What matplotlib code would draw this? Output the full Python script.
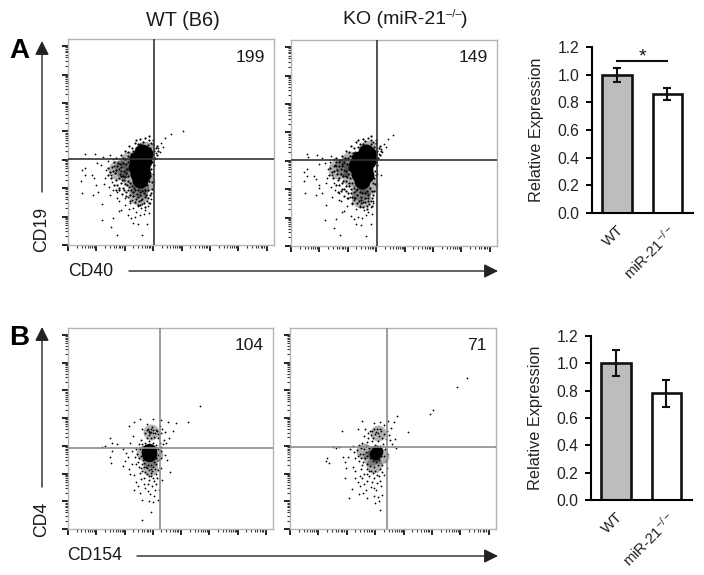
import numpy as np
import matplotlib
matplotlib.use("Agg")
import matplotlib.pyplot as plt

plt.rcParams['font.family'] = ['Liberation Sans', 'DejaVu Sans']
plt.rcParams['mathtext.fontset'] = 'custom'
plt.rcParams['mathtext.rm'] = 'Liberation Sans'
plt.rcParams['mathtext.default'] = 'regular'

W, H = 704, 575

# flow plots, values in log decades
a_wt_core = [(2.62, 3.28), (2.72, 3.2), (2.42, 3.02), (2.68, 2.95), (2.38, 2.75), (2.62, 2.7),
             (2.45, 2.5), (2.65, 2.5), (2.55, 2.3)]
a_wt_haze = [(1.98, 2.72), (2.18, 2.95), (2.2, 2.4), (2.5, 2.0), (2.7, 2.2), (2.72, 3.3), (2.45, 1.75), (1.75, 2.65)]
a_wt_halo = [(1.95, 3.05), (2.05, 2.85), (1.98, 2.6), (2.02, 2.4), (2.1, 2.25), (2.15, 2.05), (2.22, 1.95),
             (2.3, 1.85), (2.42, 1.8), (2.55, 1.75), (2.68, 1.82), (2.8, 1.95), (2.95, 2.2), (2.98, 2.5),
             (3.02, 2.8), (3.05, 3.05), (3.02, 3.3), (2.98, 3.55), (2.85, 3.68), (2.65, 3.62), (2.45, 3.55),
             (2.25, 3.42), (2.1, 3.28), (1.88, 2.75), (1.82, 2.5), (1.9, 2.3), (2.0, 2.15), (2.12, 3.12),
             (2.2, 3.22), (2.92, 3.6), (2.35, 1.95), (2.62, 1.62), (2.72, 1.68), (2.5, 1.55), (2.4, 1.62),
             (1.75, 2.9), (1.7, 2.65), (1.78, 2.35), (1.85, 2.18), (1.92, 2.0), (2.05, 1.88), (2.6, 1.9),
             (3.08, 3.4), (3.12, 3.18), (3.15, 3.3), (2.95, 1.98), (2.88, 1.75), (2.78, 1.55), (1.68, 3.05),
             (1.85, 3.15), (2.0, 3.32), (2.15, 3.48), (2.35, 3.6), (2.55, 3.72)]
a_wt_dense = [(1.92, 2.88), (1.88, 2.62), (1.95, 2.42), (2.02, 3.02), (2.08, 2.68), (2.12, 2.92), (2.05, 2.52),
              (2.12, 2.42), (2.18, 2.18), (2.08, 2.12), (1.98, 2.3), (2.25, 2.08), (2.32, 2.02), (2.45, 1.92),
              (2.52, 1.88), (2.7, 1.95), (2.78, 2.1), (2.86, 2.25), (2.88, 2.42), (2.92, 2.68), (2.95, 2.92),
              (2.92, 3.12), (2.9, 3.42), (2.82, 3.52), (2.55, 3.55), (2.38, 3.42), (2.28, 3.3), (2.18, 3.1),
              (2.22, 2.95), (1.72, 2.78), (1.65, 2.52), (1.62, 2.92), (1.58, 2.62), (1.68, 2.28), (1.72, 2.12),
              (1.8, 2.02), (1.78, 2.68), (1.82, 2.85), (1.85, 2.42), (1.55, 2.75), (1.52, 2.35), (1.48, 2.58),
              (1.62, 2.12), (1.42, 2.72), (1.4, 2.48), (1.98, 1.92), (2.12, 1.92), (2.18, 1.75), (2.28, 1.72),
              (2.35, 1.52), (2.48, 1.68), (2.58, 1.58), (2.68, 1.48), (2.82, 1.65), (2.92, 1.82), (2.75, 1.75),
              (2.45, 1.42), (2.55, 1.42), (2.7, 1.35), (2.85, 1.48), (2.18, 1.55), (2.05, 1.72), (1.9, 1.78),
              (1.78, 1.95), (1.68, 1.92), (2.38, 3.68), (2.72, 3.75), (2.85, 3.82), (3.0, 3.68), (3.12, 3.48)]
a_wt_sparse = [(0.6, 3.19), (0.95, 3.19), (1.24, 3.11), (1.01, 2.87), (1.15, 2.82), (0.6, 2.7), (0.48, 2.64),
               (0.6, 2.46), (0.44, 2.25), (0.83, 2.46), (0.91, 2.35), (0.98, 2.11), (0.48, 1.84), (0.87, 1.76),
               (1.06, 1.88), (1.2, 1.45), (1.18, 0.89), (1.57, 0.94), (1.5, 0.62), (1.71, 0.36), (2.62, 0.34),
               (2.29, 0.77), (2.47, 0.75), (2.78, 0.75), (2.23, 0.94), (1.88, 1.24), (1.8, 1.2), (2.12, 1.06),
               (2.35, 1.0), (2.67, 1.08), (2.85, 1.12), (2.53, 1.04), (1.47, 1.76), (1.71, 1.65), (2.0, 1.41),
               (2.18, 1.47), (2.88, 1.47), (4.05, 4.01), (3.62, 3.9), (3.4, 3.75), (3.29, 3.58), (3.17, 3.4),
               (3.35, 3.46), (3.09, 3.23), (3.23, 3.28), (1.35, 2.65), (1.42, 2.95), (1.5, 2.45), (1.55, 2.2),
               (1.62, 2.78), (1.3, 2.35), (1.25, 2.15), (1.45, 2.05), (1.6, 1.95), (1.72, 1.85), (1.58, 3.02),
               (1.48, 3.15), (1.78, 1.55), (2.0, 1.65), (2.1, 1.7), (2.25, 1.6), (2.3, 1.3), (2.45, 1.38),
               (2.58, 1.3), (2.72, 1.22), (2.8, 1.38), (2.92, 1.62), (2.15, 1.25), (2.4, 1.15), (2.62, 1.45)]

a_ko_core = [(2.65, 3.3), (2.75, 3.22), (2.4, 3.05), (2.72, 2.98), (2.3, 2.82), (2.6, 2.72),
             (2.38, 2.55), (2.65, 2.5), (2.5, 2.28)]
a_ko_haze = [(1.9, 2.78), (2.12, 3.0), (2.15, 2.42), (2.48, 1.95), (2.7, 2.15), (2.72, 3.38), (2.45, 1.68), (1.65, 2.7)]
a_ko_halo = [(1.9, 3.1), (1.98, 2.9), (1.92, 2.65), (1.98, 2.42), (2.05, 2.22), (2.12, 2.02), (2.2, 1.9),
             (2.32, 1.78), (2.45, 1.72), (2.6, 1.7), (2.72, 1.78), (2.85, 1.92), (2.95, 2.18), (3.0, 2.5),
             (3.02, 2.85), (3.05, 3.08), (3.03, 3.35), (2.98, 3.62), (2.82, 3.72), (2.62, 3.68), (2.42, 3.6),
             (2.2, 3.45), (2.05, 3.3), (1.8, 2.8), (1.75, 2.52), (1.82, 2.3), (1.92, 2.12), (2.08, 3.18),
             (2.18, 3.28), (2.9, 3.66), (2.32, 2.0), (2.6, 1.55), (2.72, 1.6), (2.48, 1.5), (2.38, 1.58),
             (1.68, 2.95), (1.62, 2.68), (1.7, 2.4), (1.78, 2.2), (1.85, 2.02), (2.0, 1.85), (2.62, 1.85),
             (3.1, 3.45), (3.14, 3.2), (3.18, 3.34), (2.92, 1.95), (2.85, 1.7), (2.75, 1.48), (1.6, 3.08),
             (1.78, 3.18), (1.95, 3.36), (2.1, 3.52), (2.3, 3.65), (2.52, 3.78), (1.55, 2.85), (2.22, 1.68)]
a_ko_dense = [(1.88, 2.95), (1.85, 2.68), (1.92, 2.48), (2.0, 3.08), (2.05, 2.72), (2.1, 2.98), (2.02, 2.55),
              (2.08, 2.38), (2.15, 2.2), (2.05, 2.1), (1.95, 2.28), (2.22, 2.05), (2.3, 1.98), (2.42, 1.9),
              (2.5, 1.85), (2.68, 1.92), (2.78, 2.05), (2.88, 2.22), (2.92, 2.38), (2.95, 2.65), (2.98, 2.95),
              (2.94, 3.15), (2.92, 3.48), (2.8, 3.58), (2.55, 3.6), (2.36, 3.48), (2.25, 3.32), (2.15, 3.15),
              (1.7, 2.82), (1.62, 2.55), (1.58, 2.95), (1.52, 2.65), (1.65, 2.32), (1.7, 2.15), (1.78, 2.0),
              (1.75, 2.72), (1.8, 2.9), (1.82, 2.45), (1.5, 2.8), (1.48, 2.38), (1.45, 2.6), (1.6, 2.15),
              (1.38, 2.75), (1.35, 2.5), (1.95, 1.92), (2.1, 1.88), (2.16, 1.72), (2.25, 1.7), (2.32, 1.5),
              (2.45, 1.62), (2.55, 1.55), (2.66, 1.42), (2.82, 1.58), (2.9, 1.8), (2.72, 1.7), (2.42, 1.4),
              (2.52, 1.38), (2.68, 1.3), (2.86, 1.42), (2.15, 1.52), (2.02, 1.7), (1.88, 1.75), (1.75, 1.92),
              (1.65, 1.9), (2.35, 3.72), (2.7, 3.8), (2.82, 3.88), (3.0, 3.72), (3.12, 3.52), (1.72, 3.02)]
a_ko_sparse = [(0.58, 3.24), (0.6, 3.12), (0.93, 3.2), (1.1, 3.08), (0.98, 2.9), (1.2, 2.92), (0.55, 2.7),
               (0.47, 2.62), (0.58, 2.45), (0.45, 2.3), (0.82, 2.48), (0.88, 2.36), (0.97, 2.15), (0.98, 2.05),
               (0.5, 1.86), (0.88, 1.78), (1.08, 1.86), (1.22, 1.46), (1.2, 0.9), (1.6, 0.96), (1.5, 0.62),
               (1.74, 0.38), (2.65, 0.36), (2.3, 0.76), (2.48, 0.74), (2.8, 0.78), (2.2, 0.94), (1.85, 1.22),
               (1.78, 1.18), (2.1, 1.06), (2.35, 1.02), (2.65, 1.1), (2.85, 1.14), (2.5, 1.0), (1.45, 1.74),
               (1.68, 1.62), (1.98, 1.42), (2.15, 1.48), (2.88, 1.5), (3.6, 3.92), (3.42, 3.78), (3.28, 3.6),
               (3.16, 3.42), (3.34, 3.48), (3.09, 3.25), (3.22, 3.3), (3.15, 2.5), (3.02, 2.55), (1.3, 2.72),
               (1.38, 2.95), (1.46, 2.5), (1.52, 2.22), (1.58, 2.82), (1.28, 2.4), (1.24, 2.2), (1.42, 2.08),
               (1.56, 1.98), (1.68, 1.86), (1.52, 3.06), (1.42, 3.18), (1.75, 1.58), (1.98, 1.68), (2.08, 1.72),
               (2.22, 1.62), (2.28, 1.3), (2.42, 1.36), (2.56, 1.28), (2.7, 1.2), (2.8, 1.36), (2.9, 1.6)]

b_wt_core = [(2.88, 2.8), (2.88, 2.72)]
b_wt_haze = [(2.88, 2.78), (2.9, 2.5), (2.9, 2.2), (2.95, 3.5), (2.68, 2.75), (3.08, 2.72)]
b_wt_halo = [(2.55, 2.9), (2.62, 3.05), (2.72, 3.12), (2.85, 3.18), (3.02, 3.12), (3.12, 3.02), (3.2, 2.88),
             (3.18, 2.68), (3.22, 2.5), (3.12, 2.35), (3.08, 2.18), (2.98, 2.08), (2.85, 2.12), (2.75, 2.22),
             (2.62, 2.35), (2.52, 2.55), (2.45, 2.72), (2.5, 2.25), (2.62, 2.1), (2.78, 1.98), (2.95, 1.92),
             (3.1, 1.98), (3.18, 2.12), (2.72, 2.85), (3.08, 2.62), (2.72, 2.5), (2.85, 3.5), (2.92, 3.62),
             (3.0, 3.48), (2.78, 3.58), (2.98, 3.68), (3.1, 3.58), (3.18, 3.42), (3.05, 3.32), (2.88, 3.4),
             (3.32, 3.62), (3.42, 3.5), (3.25, 3.72), (2.72, 3.45), (2.62, 3.62), (2.42, 2.88), (2.38, 2.6),
             (2.4, 2.35), (2.55, 2.02), (2.7, 1.85), (2.88, 1.78), (3.05, 1.72), (3.15, 1.85), (3.3, 2.8),
             (3.35, 3.05), (3.4, 3.2), (3.28, 2.55), (2.58, 1.82), (2.82, 1.62), (2.98, 1.55), (3.12, 1.62)]
b_wt_dense = [(2.65, 2.95), (2.6, 2.78), (2.58, 2.62), (2.65, 2.48), (2.7, 2.38), (2.82, 2.32), (2.95, 2.3),
              (3.05, 2.4), (3.1, 2.55), (3.12, 2.75), (3.08, 2.9), (2.98, 3.02), (2.85, 3.05), (2.75, 3.02),
              (2.68, 2.22), (2.8, 2.2), (2.92, 2.15), (3.02, 2.22), (2.58, 2.2), (2.48, 2.42), (2.92, 2.02),
              (2.85, 1.92), (3.02, 1.85), (2.72, 2.05), (2.88, 3.55), (2.95, 3.5), (2.9, 3.45), (3.0, 3.58),
              (2.82, 3.62), (3.08, 3.48), (3.15, 3.55), (2.92, 3.28), (2.8, 3.3), (3.2, 3.28), (3.28, 3.45),
              (2.58, 3.2), (2.5, 3.05), (3.25, 3.12), (3.3, 2.95)]
b_wt_sparse = [(1.5, 3.28), (1.55, 3.1), (1.3, 3.0), (1.22, 2.95), (1.55, 2.82), (1.5, 2.6), (1.52, 2.38),
               (1.72, 3.05), (1.95, 2.9), (2.05, 2.75), (2.0, 2.45), (1.95, 2.28), (2.15, 2.15), (2.2, 1.98),
               (2.42, 1.68), (2.2, 3.1), (2.3, 3.35), (2.15, 3.72), (2.35, 3.85), (2.55, 3.95), (2.78, 3.78),
               (3.02, 3.98), (3.3, 3.92), (3.55, 3.85), (3.82, 3.82), (3.72, 3.55), (3.58, 3.28), (3.42, 2.68),
               (3.5, 2.5), (3.62, 2.05), (2.35, 1.4), (2.55, 1.3), (2.72, 1.48), (2.9, 1.25), (3.05, 1.2),
               (3.22, 1.42), (3.18, 1.05), (2.62, 1.05), (2.85, 1.02), (3.0, 0.98), (2.95, 0.62), (2.6, 0.32),
               (4.68, 4.45), (4.25, 3.85), (3.22, 3.32), (3.48, 3.1), (2.12, 2.6), (2.25, 2.8), (2.28, 2.35),
               (2.35, 1.95), (2.48, 1.55), (2.68, 1.62), (3.32, 1.78), (3.3, 2.2), (2.82, 1.38), (3.08, 1.42)]

b_ko_core = [(3.05, 2.8), (3.0, 2.72)]
b_ko_haze = [(3.0, 2.75), (2.62, 2.8), (2.85, 2.55), (2.95, 2.3), (3.1, 3.48), (3.2, 2.65)]
b_ko_halo = [(2.35, 2.85), (2.42, 3.02), (2.55, 3.1), (2.72, 3.15), (2.9, 3.18), (3.1, 3.18), (3.28, 3.08),
             (3.35, 2.9), (3.32, 2.65), (3.38, 2.45), (3.25, 2.3), (3.15, 2.15), (3.0, 2.08), (2.85, 2.1),
             (2.7, 2.18), (2.55, 2.3), (2.42, 2.45), (2.38, 2.65), (2.5, 2.15), (2.62, 2.0), (2.78, 1.92),
             (2.95, 1.85), (3.12, 1.9), (3.25, 2.05), (2.75, 3.48), (2.9, 3.55), (3.05, 3.6), (3.2, 3.55),
             (3.0, 3.42), (2.85, 3.38), (3.12, 3.35), (3.3, 3.42), (3.42, 3.55), (3.55, 3.65), (3.48, 3.4),
             (2.65, 3.6), (2.62, 3.35), (2.55, 1.85), (2.72, 1.72), (2.88, 1.68), (3.05, 1.65), (3.18, 1.72),
             (2.28, 2.55), (2.25, 2.78), (2.2, 2.98), (2.12, 2.88), (3.4, 2.72), (3.52, 3.2), (3.3, 3.75)]
b_ko_dense = [(2.6, 2.88), (2.66, 2.78), (2.58, 2.7), (2.72, 2.65), (2.64, 2.55), (2.78, 2.92), (2.88, 2.95),
              (2.82, 2.55), (2.92, 2.45), (3.02, 2.42), (3.12, 2.5), (3.2, 2.62), (3.2, 2.85), (3.18, 3.0),
              (3.0, 3.02), (2.68, 3.0), (2.5, 2.92), (2.48, 2.72), (2.5, 2.55), (2.58, 2.42), (2.7, 2.35),
              (2.82, 2.28), (2.95, 2.22), (3.08, 2.3), (2.78, 2.1), (2.92, 2.02), (3.05, 1.95), (2.7, 1.98),
              (3.02, 3.5), (3.1, 3.48), (2.95, 3.62), (3.18, 3.62), (2.82, 3.55), (3.25, 3.28), (3.38, 3.25),
              (2.75, 3.3), (2.92, 3.3)]
b_ko_sparse = [(1.82, 3.55), (1.5, 2.95), (1.62, 2.92), (1.72, 2.95), (1.25, 2.45), (1.3, 2.55), (1.38, 2.38),
               (1.88, 2.6), (1.95, 2.42), (2.05, 2.6), (1.98, 2.2), (1.92, 1.85), (2.2, 2.25), (2.3, 2.1),
               (2.28, 1.85), (2.38, 1.7), (2.48, 1.55), (2.18, 1.45), (2.42, 1.25), (2.58, 1.3), (2.68, 1.42),
               (2.85, 1.5), (3.02, 1.4), (3.2, 1.55), (2.95, 1.18), (3.1, 1.15), (3.25, 1.22), (2.72, 1.12),
               (2.08, 1.12), (2.98, 0.92), (3.12, 1.02), (3.15, 0.7), (6.24, 5.45), (5.89, 5.13), (5.03, 4.31),
               (4.92, 4.14), (3.77, 4.06), (4.16, 3.49), (3.65, 3.85), (3.45, 3.88), (3.58, 3.08), (3.68, 3.25),
               (3.72, 2.92), (2.52, 3.88), (2.4, 3.62), (2.95, 3.82), (3.15, 3.85), (2.45, 1.92), (3.32, 1.95),
               (3.4, 2.2), (2.6, 1.62), (2.95, 1.48)]

# gate positions for the quadrant lines
a_gate = (3.01, 3.03)
b_wt_gate = (3.27, 2.93)
b_ko_gate = (3.40, 2.94)

# event counts shown in the top right corner
a_wt_count, a_ko_count = "199", "149"
b_wt_count, b_ko_count = "104", "71"

# bar charts
groups = ["WT", "miR-21$^{-/-}$"]
a_expr = [1.0, 0.86]
a_err = [0.05, 0.04]
b_expr = [1.0, 0.78]
b_err = [0.095, 0.10]
expr_ticks = [0.0, 0.2, 0.4, 0.6, 0.8, 1.0, 1.2]

fig = plt.figure(figsize=(W / 100, H / 100), dpi=100)


def add_px_axes(left, top, right, bottom):
    return fig.add_axes([left / W, 1 - bottom / H, (right - left) / W, (bottom - top) / H])


def flow_panel(box, core, haze, halo, dense, sparse, gate, count, gate_color, core_s, haze_s, halo_s, count_y):
    ax = add_px_axes(*box)
    ax.set_xlim(0, 7.25)
    ax.set_ylim(0, 7.25)
    hz = np.array(haze)
    ax.scatter(hz[:, 0], hz[:, 1], s=haze_s, c="black", alpha=0.3, linewidths=0, zorder=1)
    for pts, s, zo in ((sparse, 1.6, 2), (dense, halo_s, 2), (halo, halo_s, 2), (core, core_s, 3)):
        pts = np.array(pts)
        ax.scatter(pts[:, 0], pts[:, 1], s=s, c="black", linewidths=0, zorder=zo)
    ax.axvline(gate[0], color=gate_color, lw=1.2, zorder=4)
    ax.axhline(gate[1], color=gate_color, lw=1.2, zorder=4)
    major = np.arange(0, 8)
    minor = np.array([m + np.log10(k) for m in major[:-1] for k in range(2, 10)])
    for axis in (ax.xaxis, ax.yaxis):
        axis.set_ticks(major)
        axis.set_ticks(minor, minor=True)
        axis.set_ticklabels([])
    ax.tick_params(which="major", length=4, width=1.3, color="#111111", direction="out")
    ax.tick_params(which="minor", length=2, width=0.8, color="#333333", direction="out")
    for sp in ax.spines.values():
        sp.set_color("#b4b4b4")
        sp.set_linewidth(1.0)
    ax.text(0.955, 1 - (count_y - box[1]) / (box[3] - box[1]), count, transform=ax.transAxes,
            ha="right", va="center", fontsize=12.6, color="#1a1a1a")
    return ax


def bar_panel(box, values, errs):
    ax = add_px_axes(*box)
    x = np.arange(len(values))
    ax.bar(x, values, width=0.59, color=["#bdbdbd", "white"], edgecolor="#111111", linewidth=1.9, zorder=2)
    ax.errorbar(x, values, yerr=errs, fmt="none", ecolor="#111111", elinewidth=1.5,
                capsize=3.2, capthick=1.5, zorder=3)
    ax.set_xlim(-0.495, 1.505)
    ax.set_ylim(0, 1.2)
    ax.set_yticks(expr_ticks)
    ax.set_yticklabels([f"{t:.1f}" for t in expr_ticks], fontsize=11.3, color="#222222")
    ax.set_xticks(x)
    ax.set_xticklabels(groups, rotation=45, ha="right", rotation_mode="anchor", fontsize=10.8, color="#222222")
    ax.set_ylabel("Relative Expression", fontsize=11.7, color="#222222", labelpad=10)
    ax.tick_params(axis="y", length=4, width=1.4, pad=5)
    ax.tick_params(axis="x", length=0, pad=7)
    ax.spines["top"].set_visible(False)
    ax.spines["right"].set_visible(False)
    ax.spines["left"].set_linewidth(1.5)
    ax.spines["bottom"].set_linewidth(1.5)
    return ax


flow_panel((68, 39, 274, 245), a_wt_core, a_wt_haze, a_wt_halo, a_wt_dense, a_wt_sparse, a_gate, a_wt_count,
           "#333333", 133, 200, 2.5, 57)
flow_panel((291, 40, 497, 246), a_ko_core, a_ko_haze, a_ko_halo, a_ko_dense, a_ko_sparse, a_gate, a_ko_count,
           "#333333", 133, 200, 2.5, 57)
flow_panel((68, 328, 273, 529), b_wt_core, b_wt_haze, b_wt_halo, b_wt_dense, b_wt_sparse, b_wt_gate, b_wt_count,
           "#8c8c8c", 120, 130, 1.8, 345)
flow_panel((290, 328, 496, 529), b_ko_core, b_ko_haze, b_ko_halo, b_ko_dense, b_ko_sparse, b_ko_gate, b_ko_count,
           "#8c8c8c", 70, 130, 1.8, 345)

ax_a = bar_panel((592, 47, 693, 213), a_expr, a_err)
ax_a.plot([0, 1], [1.10, 1.10], color="#111111", lw=1.5, clip_on=False)
ax_a.text(0.5, 1.13, "*", ha="center", va="center", fontsize=14, color="#111111")
bar_panel((591, 336, 692, 500), b_expr, b_err)

# overlay in picture pixels for titles, panel letters and arrows
ov = fig.add_axes([0, 0, 1, 1], zorder=5)
ov.set_xlim(0, W)
ov.set_ylim(H, 0)
ov.axis("off")
ov.patch.set_alpha(0)

ov.text(183, 20, "WT (B6)", ha="center", va="center", fontsize=14.3, color="#1a1a1a")
ov.text(343, 20, "KO (miR-21", ha="left", va="center", fontsize=14, color="#1a1a1a")
ov.text(446, 14, "–/–", ha="left", va="center", fontsize=8, color="#1a1a1a")
ov.text(461, 20, ")", ha="left", va="center", fontsize=14, color="#1a1a1a")
ov.text(19, 51, "A", ha="center", va="center", fontsize=20, fontweight="bold", color="black")
ov.text(19, 338, "B", ha="center", va="center", fontsize=20, fontweight="bold", color="black")

arrow = dict(arrowstyle="-|>,head_width=0.35,head_length=0.7", color="#222222", lw=1.0,
             shrinkA=0, shrinkB=0, mutation_scale=12)
ov.annotate("", xy=(42, 41), xytext=(42, 192), arrowprops=arrow)
ov.annotate("", xy=(498, 271), xytext=(129, 271), arrowprops=arrow)
ov.annotate("", xy=(42, 327), xytext=(42, 487), arrowprops=arrow)
ov.annotate("", xy=(498, 556), xytext=(137, 556), arrowprops=arrow)

ov.text(42, 229, "CD19", rotation=90, ha="center", va="center", fontsize=12.7, color="#1a1a1a")
ov.text(91, 271, "CD40", ha="center", va="center", fontsize=12.7, color="#1a1a1a")
ov.text(42, 519, "CD4", rotation=90, ha="center", va="center", fontsize=12.7, color="#1a1a1a")
ov.text(95, 556, "CD154", ha="center", va="center", fontsize=12.7, color="#1a1a1a")

fig.savefig("out.png", dpi=100)
